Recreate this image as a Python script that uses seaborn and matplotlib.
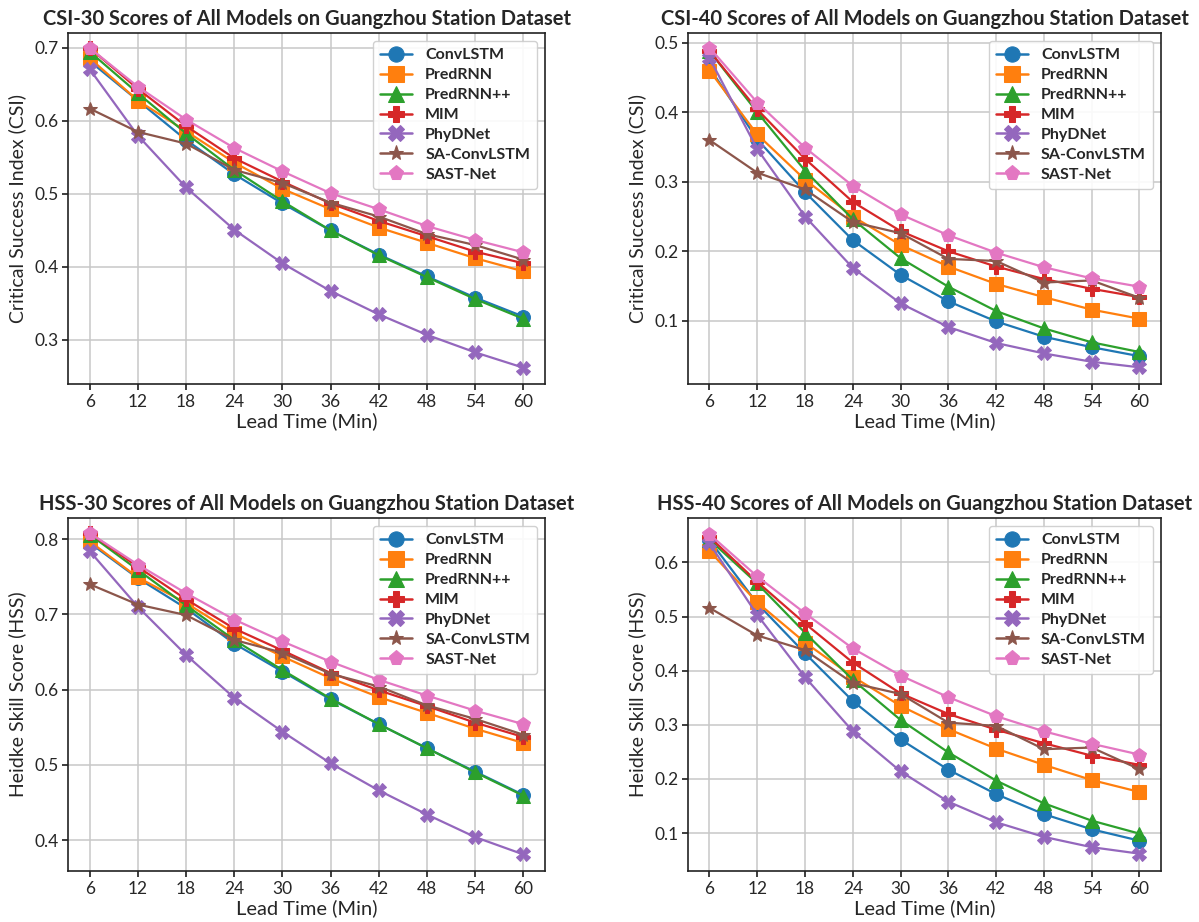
import matplotlib
import pandas as pd
import seaborn as sns
from matplotlib import pyplot as plt

matplotlib.use('agg')

lead_times = [6, 12, 18, 24, 30, 36, 42, 48, 54, 60]
models = ["ConvLSTM", "PredRNN", "PredRNN++", "MIM", "PhyDNet", "SA-ConvLSTM", "SAST-Net"]
model_markers = ["o", "s", "^", "P", "X", "*", "p"]

csi30 = {
    "ConvLSTM": [0.682, 0.628, 0.574, 0.527, 0.487, 0.450, 0.417, 0.387, 0.358, 0.332],
    "PredRNN": [0.686, 0.628, 0.586, 0.543, 0.507, 0.479, 0.454, 0.433, 0.412, 0.394],
    "PredRNN++": [0.695, 0.638, 0.583, 0.533, 0.490, 0.450, 0.416, 0.386, 0.356, 0.329],
    "MIM": [0.700, 0.644, 0.593, 0.549, 0.517, 0.487, 0.463, 0.442, 0.421, 0.405],
    "PhyDNet": [0.671, 0.580, 0.509, 0.451, 0.405, 0.367, 0.335, 0.307, 0.283, 0.262],
    "SA-ConvLSTM": [0.617, 0.585, 0.569, 0.533, 0.515, 0.488, 0.469, 0.445, 0.430, 0.410],
    "SAST-Net": [0.700, 0.647, 0.602, 0.563, 0.531, 0.501, 0.479, 0.456, 0.437, 0.420],
}
csi40 = {
    "ConvLSTM": [0.464, 0.361, 0.285, 0.216, 0.166, 0.128, 0.099, 0.077, 0.062, 0.049],
    "PredRNN": [0.460, 0.368, 0.303, 0.250, 0.209, 0.178, 0.153, 0.134, 0.116, 0.103],
    "PredRNN++": [0.488, 0.400, 0.316, 0.246, 0.190, 0.149, 0.114, 0.089, 0.069, 0.055],
    "MIM": [0.488, 0.404, 0.333, 0.271, 0.229, 0.200, 0.178, 0.160, 0.146, 0.134],
    "PhyDNet": [0.478, 0.347, 0.250, 0.176, 0.125, 0.091, 0.068, 0.053, 0.041, 0.033],
    "SA-ConvLSTM": [0.360, 0.313, 0.289, 0.242, 0.226, 0.189, 0.186, 0.155, 0.158, 0.133],
    "SAST-Net": [0.493, 0.414, 0.349, 0.294, 0.253, 0.223, 0.198, 0.177, 0.161, 0.149],
}
hss30 = {
    "ConvLSTM": [0.795, 0.748, 0.708, 0.661, 0.624, 0.587, 0.554, 0.522, 0.491, 0.460],
    "PredRNN": [0.797, 0.749, 0.715, 0.675, 0.644, 0.615, 0.590, 0.569, 0.548, 0.529],
    "PredRNN++": [0.806, 0.759, 0.712, 0.666, 0.626, 0.588, 0.554, 0.522, 0.490, 0.459],
    "MIM": [0.808, 0.763, 0.720, 0.681, 0.652, 0.622, 0.599, 0.578, 0.556, 0.537],
    "PhyDNet": [0.784, 0.710, 0.646, 0.589, 0.544, 0.502, 0.466, 0.434, 0.404, 0.381],
    "SA-ConvLSTM": [0.740, 0.713, 0.699, 0.666, 0.649, 0.621, 0.604, 0.579, 0.561, 0.540],
    "SAST-Net": [0.808, 0.766, 0.728, 0.693, 0.664, 0.637, 0.613, 0.592, 0.572, 0.554],
}
hss40 = {
    "ConvLSTM": [0.641, 0.524, 0.432, 0.344, 0.273, 0.217, 0.172, 0.135, 0.107, 0.086],
    "PredRNN": [0.621, 0.526, 0.452, 0.389, 0.335, 0.292, 0.256, 0.226, 0.198, 0.176],
    "PredRNN++": [0.642, 0.561, 0.470, 0.383, 0.309, 0.249, 0.197, 0.155, 0.123, 0.099],
    "MIM": [0.647, 0.564, 0.487, 0.415, 0.358, 0.320, 0.291, 0.266, 0.243, 0.226],
    "PhyDNet": [0.635, 0.503, 0.388, 0.288, 0.214, 0.158, 0.120, 0.093, 0.074, 0.062],
    "SA-ConvLSTM": [0.516, 0.465, 0.438, 0.377, 0.357, 0.304, 0.298, 0.255, 0.258, 0.218],
    "SAST-Net": [0.652, 0.574, 0.506, 0.441, 0.391, 0.351, 0.316, 0.288, 0.265, 0.245],
}

panels = [
    (csi30, "CSI-30 Scores of All Models on Guangzhou Station Dataset", "Critical Success Index (CSI)"),
    (csi40, "CSI-40 Scores of All Models on Guangzhou Station Dataset", "Critical Success Index (CSI)"),
    (hss30, "HSS-30 Scores of All Models on Guangzhou Station Dataset", "Heidke Skill Score (HSS)"),
    (hss40, "HSS-40 Scores of All Models on Guangzhou Station Dataset", "Heidke Skill Score (HSS)"),
]


def to_long(scores):
    rows = []
    for m in models:
        for t, v in zip(lead_times, scores[m]):
            rows.append({"lead": t, "score": v, "model": m})
    return pd.DataFrame(rows)


sns.set_theme(style="ticks")
plt.rcParams['font.family'] = ['Lato', 'DejaVu Sans']

fig, axes = plt.subplots(2, 2, figsize=(11.99, 9.22), dpi=100)

positions = [
    [0.0567, 0.5835, 0.3980, 0.3807],
    [0.5738, 0.5835, 0.3945, 0.3807],
    [0.0567, 0.0553, 0.3980, 0.3829],
    [0.5738, 0.0553, 0.3945, 0.3829],
]

palette = dict(zip(models, sns.color_palette("tab10", len(models))))
markers = dict(zip(models, model_markers))

for ax, pos, (scores, title, ylabel) in zip(axes.flat, positions, panels):
    ax.set_position(pos)
    df = to_long(scores)
    sns.lineplot(data=df, x="lead", y="score", hue="model", style="model",
                 markers=markers, dashes=False, palette=palette, ax=ax,
                 markersize=10, linewidth=1.6, legend=True)
    for line in ax.lines:
        line.set_markeredgecolor(line.get_color())
    ax.set_title(title, fontsize=14.5, fontweight='bold', pad=6)
    ax.set_xlabel("Lead Time (Min)", fontsize=14.5, labelpad=2)
    ax.set_ylabel(ylabel, fontsize=14, labelpad=6)
    ax.set_xticks(lead_times)
    ax.tick_params(labelsize=12.5, length=4, pad=3)
    ax.grid(True, color='#c8c8c8', linewidth=1.1)
    for s in ax.spines.values():
        s.set_color('#222222')
        s.set_linewidth(1.2)
    handles, labels = ax.get_legend_handles_labels()
    for h in handles:
        h.set_markeredgecolor(h.get_color())
        h.set_markersize(11)
        h.set_linewidth(1.8)
    ax.legend(handles, labels, loc='upper right',
              prop={'weight': 'bold', 'size': 11.5},
              handlelength=2.0, borderpad=0.45, labelspacing=0.36,
              handletextpad=0.8, framealpha=0.9)

axes[0, 0].set_ylim(0.2397, 0.7205)
axes[0, 1].set_ylim(0.009, 0.514)
axes[1, 0].set_ylim(0.359, 0.828)
axes[1, 1].set_ylim(0.030, 0.682)

plt.savefig("out.png", dpi=100)
plt.close()
